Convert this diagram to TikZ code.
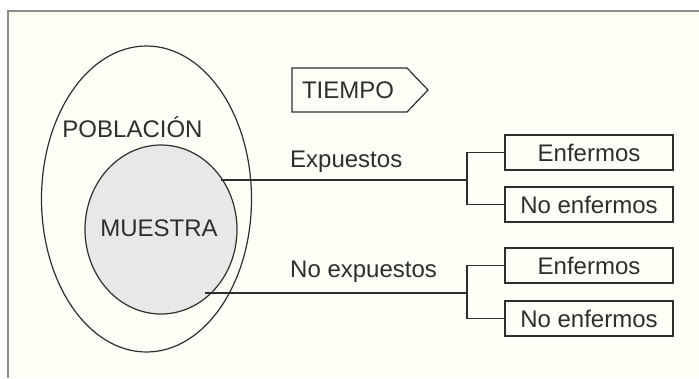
\documentclass[tikz,border=0pt]{standalone}
\usepackage{fontspec}
\setmainfont{Liberation Sans}
\usetikzlibrary{shapes.geometric}
\definecolor{cream}{HTML}{FFFEF6}
\definecolor{framegray}{HTML}{8C8C8C}
\definecolor{ink}{HTML}{2E2E2E}
\definecolor{sample}{HTML}{E8E8E8}
\tikzset{
  lbl/.style={inner sep=0pt, text=ink, font=\fontsize{24}{28}\selectfont},
  outbox/.style={draw=ink, line width=1.2pt, minimum width=168pt, minimum height=35pt, inner sep=0pt, text=ink, font=\fontsize{24}{28}\selectfont},
  conn/.style={draw=ink, line width=1.2pt},
  oval/.style={ellipse, draw=ink, line width=1.2pt, inner sep=0pt}
}
\begin{document}
\begin{tikzpicture}[x=1pt, y=-1pt]
\useasboundingbox (0,0) rectangle (699,378);
\fill[white] (0,0) rectangle (699,378);
\fill[cream] (8,11) rectangle (699,378);
\draw[framegray, line width=2pt] (8,378) -- (8,11) -- (699,11);

% population and sample
\node[oval, minimum width=210pt, minimum height=306pt] (pob) at (146.5,199) {};
\node[oval, fill=sample, minimum width=152pt, minimum height=169pt] (mue) at (161,229.5) {};
\node[lbl] (tpob) at (132.5,127) {POBLACIÓN};
\node[lbl] (tmue) at (159,228) {MUESTRA};

% time arrow
\draw[conn] (292,68) -- (407,68) -- (428,90) -- (407,112) -- (292,112) -- cycle;
\node[lbl] (ttiempo) at (348,90) {TIEMPO};

% outcome boxes
\node[outbox] (e1) at (589,152.5) {Enfermos};
\node[outbox] (n1) at (589,204.5) {No enfermos};
\node[outbox] (e2) at (589,265.5) {Enfermos};
\node[outbox] (n2) at (589,318.5) {No enfermos};

% labels
\node[lbl, anchor=west] (texp) at (290,162) {Expuestos};
\node[lbl, anchor=west] (tnoexp) at (290,272) {No expuestos};

% connectors
\coordinate (s1) at (221,180);
\coordinate (j1) at (467,180);
\coordinate (s2) at (205,293);
\coordinate (j2) at (467,293);
\draw[conn] (s1) -- (j1);
\draw[conn] (e1.west) -| (j1) |- (n1.west);
\draw[conn] (s2) -- (j2);
\draw[conn] (e2.west) -| (j2) |- (n2.west);
\end{tikzpicture}
\end{document}
